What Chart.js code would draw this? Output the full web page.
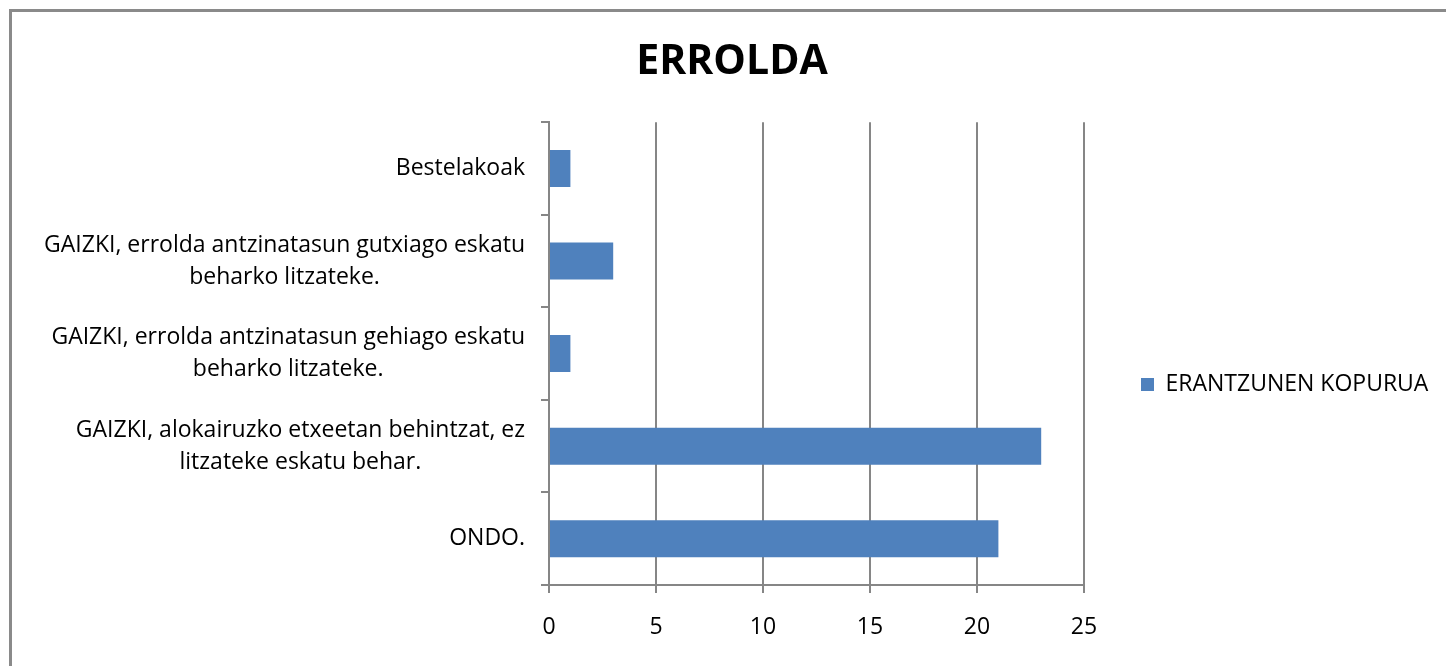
<!DOCTYPE html>
<html>
<head>
<meta charset="utf-8">
<script src="https://cdn.jsdelivr.net/npm/chart.js@4"></script>
<style>
  html, body { margin: 0; padding: 0; background: #fff; overflow: hidden; }
  #frame {
    position: absolute; left: 9px; top: 9px; width: 1500px; height: 700px;
    border-left: 3px solid #8a8a8a; border-top: 3px solid #8a8a8a;
  }
  #errolda { position: absolute; left: 0; top: 0; }
</style>
</head>
<body>
<div id="frame"></div>
<canvas id="errolda" width="1446" height="666"></canvas>
<script>
const chartTitle = "ERROLDA";
const seriesName = "ERANTZUNEN KOPURUA";
const categories = [
  ["Bestelakoak"],
  ["GAIZKI, errolda antzinatasun gutxiago eskatu", "beharko litzateke."],
  ["GAIZKI, errolda antzinatasun gehiago eskatu", "beharko litzateke."],
  ["GAIZKI, alokairuzko etxeetan behintzat, ez", "litzateke eskatu behar."],
  ["ONDO."],
];
const answers = [1, 3, 1, 23, 21];
const xMin = 0;
const xMax = 25;
const xStep = 5;

const FONT = '"Open Sans", "DejaVu Sans", sans-serif';
const AXIS_GREY = "#868686";
const BAR_BLUE = "#4F81BD";

// category labels: block right aligned, lines centred inside the block
const categoryLabels = {
  id: "categoryLabels",
  afterDraw(chart) {
    const { ctx } = chart;
    const y = chart.scales.y;
    ctx.save();
    ctx.font = "23px " + FONT;
    ctx.fillStyle = "#000";
    ctx.textAlign = "center";
    ctx.textBaseline = "middle";
    categories.forEach((lines, i) => {
      const w = Math.max(...lines.map((s) => ctx.measureText(s).width));
      const cx = y.right - 24 - w / 2;
      const cy = y.getPixelForTick(i);
      lines.forEach((s, k) => {
        ctx.fillText(s, cx, cy + (k - (lines.length - 1) / 2) * 32);
      });
    });
    ctx.restore();
  },
};

// legend sits in a fixed-width column on the right
const legendColumn = {
  id: "legendColumn",
  beforeLayout(chart) {
    const lg = chart.legend;
    if (lg && !lg._fixedWidth) {
      const fit = lg.fit;
      lg.fit = function () {
        fit.call(this);
        this.width = 362;
      };
      lg._fixedWidth = true;
    }
  },
  afterLayout(chart) {
    const lg = chart.legend;
    lg.top += 31;
    lg.bottom += 31;
  },
};

const ctx = document.getElementById("errolda").getContext("2d");

new Chart(ctx, {
  type: "bar",
  data: {
    labels: categories,
    datasets: [
      {
        label: seriesName,
        data: answers,
        backgroundColor: BAR_BLUE,
        borderWidth: 0,
        barPercentage: 0.4,
        categoryPercentage: 1,
      },
    ],
  },
  options: {
    indexAxis: "y",
    responsive: false,
    animation: false,
    layout: { padding: { left: 18, right: 0, top: 0, bottom: 24 } },
    plugins: {
      title: {
        display: true,
        text: chartTitle,
        color: "#000",
        font: { family: FONT, size: 41, weight: "bold" },
        padding: { top: 38, bottom: 35 },
      },
      legend: {
        position: "right",
        fullSize: false,
        labels: {
          color: "#000",
          font: { family: FONT, size: 23 },
          boxWidth: 13,
          boxHeight: 13,
          padding: 57,
        },
      },
      tooltip: { enabled: false },
    },
    scales: {
      x: {
        min: xMin,
        max: xMax,
        ticks: {
          stepSize: xStep,
          color: "#000",
          font: { family: FONT, size: 23 },
          padding: 21,
        },
        grid: { color: AXIS_GREY, lineWidth: 2, tickLength: 8 },
        border: { color: AXIS_GREY, width: 2 },
        afterFit(scale) {
          scale.height = 57;
        },
      },
      y: {
        ticks: { display: false },
        grid: {
          color: AXIS_GREY,
          lineWidth: 2,
          tickLength: 8,
          drawOnChartArea: false,
          offset: true,
        },
        border: { color: AXIS_GREY, width: 2 },
        afterFit(scale) {
          scale.width = 531;
        },
      },
    },
  },
  plugins: [categoryLabels, legendColumn],
});
</script>
</body>
</html>
